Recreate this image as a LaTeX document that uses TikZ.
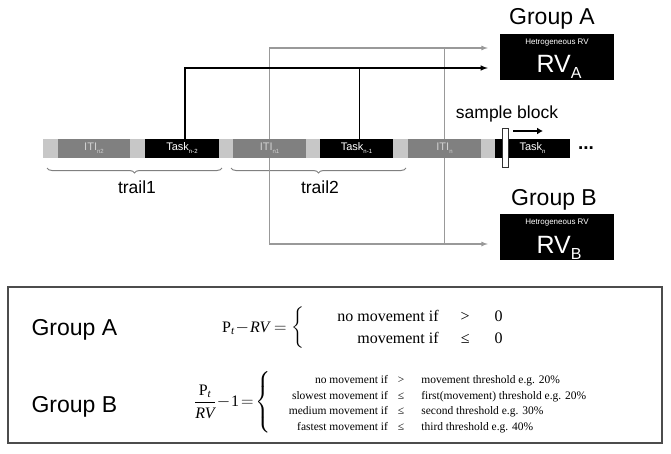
\documentclass[tikz,border=0pt]{standalone}
\usepackage{amsmath}
\usepackage{fontspec}
\setmainfont{Liberation Sans}
\newfontfamily\tms{Liberation Serif}
\usetikzlibrary{positioning,decorations.pathreplacing,arrows.meta}
\tikzset{>=latex}
\definecolor{barlight}{gray}{0.78}
\definecolor{itidark}{gray}{0.5}
\definecolor{itilbl}{gray}{0.82}
\definecolor{wire}{gray}{0.6}
\newcommand{\blksub}[1]{\raisebox{-3pt}{\fontsize{6}{6}\selectfont #1}}
\tikzset{
  blk/.style={minimum height=19pt,inner sep=0pt,font=\fontsize{11}{11}\selectfont},
  iti/.style={blk,fill=itidark,text=itilbl},
  task/.style={blk,fill=black,text=white},
  rvbox/.style={fill=black,minimum width=114pt,minimum height=46pt,inner sep=0pt},
  bigtxt/.style={font=\fontsize{23}{23}\selectfont},
  lbl/.style={font=\fontsize{17.5}{17.5}\selectfont},
  grayline/.style={wire,line width=1.2pt},
  blackline/.style={black,line width=1.5pt},
  brc/.style={decorate,decoration={brace,mirror,amplitude=5pt},gray,line width=1pt}
}

\begin{document}
\begin{tikzpicture}[x=1pt,y=-1pt]
\useasboundingbox (0,0) rectangle (671,453);
% time line
\fill[barlight] (43,139) rectangle (570,158);
\node[iti,minimum width=72pt] (iti2) at (94,148.5) {ITI\blksub{n2}};
\node[task,minimum width=74pt] (task2) at (182,148.5) {Task\blksub{n-2}};
\node[iti,minimum width=73pt] (iti1) at (269.5,148.5) {ITI\blksub{n1}};
\node[task,minimum width=73pt] (task1) at (356.5,148.5) {Task\blksub{n-1}};
\node[iti,minimum width=73pt] (itin) at (444.5,148.5) {ITI\blksub{n}};
\node[task,minimum width=75pt] (taskn) at (532.5,148.5) {Task\blksub{n}};
\node[font=\bfseries\fontsize{19}{19}\selectfont] (dots) at (586,148) {...};

% sample block
\node[draw=black!80,fill=white,line width=1pt,minimum width=6pt,minimum height=39pt,inner sep=0pt] (sblock) at (505.5,148) {};
\node[lbl] (sbtext) at (507,114) {sample block};
\coordinate (sbend) at (543,131);
\draw[line width=2.4pt,-{Latex[length=6pt,width=7pt]}] (513,131) -- (sbend);

% trails
\draw[brc] (47,168) -- (222,168);
\draw[brc] (231,168) -- (406,168);
\node[lbl] (trl1) at (137,187) {trail1};
\node[lbl] (trl2) at (320,187) {trail2};

% groups
\node[rvbox] (rva) at (557,57) {};
\node[bigtxt,above=1pt of rva,xshift=-5pt] (grpa) {Group A};
\node[text=white,font=\fontsize{8}{8}\selectfont] (hra) at ([yshift=-9pt]rva.north) {Hetrogeneous RV};
\node[text=white,font=\fontsize{25}{25}\selectfont,anchor=base] (rvta) at (559,72) {RV\raisebox{-6pt}{\fontsize{16}{16}\selectfont A}};
\node[rvbox] (rvb) at (557,237) {};
\node[bigtxt,above=0pt of rvb,xshift=-3pt] (grpb) {Group B};
\node[text=white,font=\fontsize{8}{8}\selectfont] (hrb) at ([yshift=-9pt]rvb.north) {Hetrogeneous RV};
\node[text=white,font=\fontsize{25}{25}\selectfont,anchor=base] (rvtb) at (559,253) {RV\raisebox{-6pt}{\fontsize{16}{16}\selectfont B}};

\coordinate (ina) at ([xshift=-12pt,yshift=-11pt]rva.west);
\coordinate (inag) at ([xshift=-12pt,yshift=9pt]rva.west);
\coordinate (inb) at ([xshift=-12pt,yshift=-7pt]rvb.west);

% connectors
\draw[grayline,->] (iti1.north) |- (inag);
\draw[grayline] (itin.north) -- (itin.north |- inag);
\draw[blackline,->] ([xshift=3pt]task2.north) |- (ina);
\draw[blackline] ([xshift=3pt]task1.north) -- ([xshift=3pt]task1.north |- ina);
\draw[grayline,->] (iti1.south) |- (inb);
\draw[grayline] (itin.south) -- (itin.south |- inb);

% rules
\draw[black!70,line width=1.2pt] (8,287) rectangle (662,443);
\node[bigtxt,anchor=base west] (eqgrpa) at (28,335) {Group A};
\node[bigtxt,anchor=base west] (eqgrpb) at (28,412) {Group B};
\node[anchor=west,inner sep=0pt,font=\tms\fontsize{16}{19}\selectfont] (eqa) at (222,328)
  {$\text{P}_{\textit{t}}\!-\!\textit{RV}=\left\{\renewcommand{\arraystretch}{1.2}\begin{tabular}{@{\hspace{33pt}}r@{\hspace{22pt}}c@{\hspace{25pt}}l}
    no movement if & > & 0\\
    movement if & ≤ & 0
  \end{tabular}\right.$};
\node[anchor=west,inner sep=0pt,font=\tms\fontsize{16}{19}\selectfont] (eqb) at (194,403)
  {$\dfrac{\text{P}_{\textit{t}}}{\textit{RV}}\!-\!\text{1}\!=\!\left\{\mbox{\fontsize{11.5}{13.5}\selectfont\renewcommand{\arraystretch}{1.15}\begin{tabular}{@{\hspace{18pt}}r@{\hspace{10pt}}c@{\hspace{17pt}}l}
    no movement if & > & movement threshold e.g. 20\%\\
    slowest movement if & ≤ & first(movement) threshold e.g. 20\%\\
    medium movement if & ≤ & second threshold e.g. 30\%\\
    fastest movement if & ≤ & third threshold e.g. 40\%
  \end{tabular}}\right.$};
\end{tikzpicture}
\end{document}
